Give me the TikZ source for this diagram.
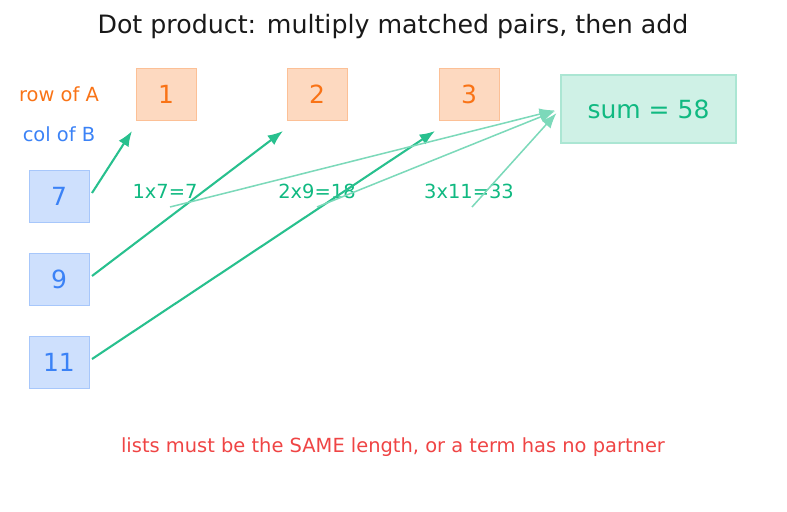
\documentclass[tikz,border=0pt]{standalone}
\usepackage{fontspec}
\setmainfont{DejaVu Sans}
\usetikzlibrary{arrows.meta,positioning,calc}
\definecolor{rowA}{HTML}{F97316}
\definecolor{colB}{HTML}{3B82F6}
\definecolor{prod}{HTML}{10B981}
\definecolor{warn}{HTML}{EF4444}

\begin{document}
\begin{tikzpicture}[
  x=0.72pt,y=-0.72pt,
  >={Latex[length=11pt,width=8.5pt]},
  abox/.style={
    draw=rowA!45!white,fill=rowA!27!white,text=rowA,
    minimum width=43.2pt,minimum height=37.4pt,inner sep=0pt,
    font=\fontsize{18}{21}\selectfont
  },
  bbox/.style={
    draw=colB!45!white,fill=colB!25!white,text=colB,
    minimum width=43.2pt,minimum height=37.4pt,inner sep=0pt,
    font=\fontsize{18}{21}\selectfont
  },
  sumbox/.style={
    draw=prod!35!white,line width=1.2pt,fill=prod!20!white,text=prod,
    minimum width=126pt,minimum height=49pt,inner sep=0pt,
    font=\fontsize{18}{21}\selectfont
  },
  lbl/.style={font=\fontsize{14}{16}\selectfont,inner sep=0pt},
  pairarrow/.style={->,draw=prod!90!white,line width=1.5pt},
  sumarrow/.style={->,draw=prod!55!white,line width=1.1pt}
]
\useasboundingbox (0,0) rectangle (787,512);

% ---- title ----
\node[font=\fontsize{18.2}{21}\selectfont,text=black!90,inner sep=0pt] (title) at (393,27)
  {Dot product: multiply matched pairs, then add};

% ---- row of A ----
\node[lbl,text=rowA] (rowlbl) at (59,94) {row of A};
\node[abox] (a1) at (166,94) {1};
\node[abox] (a2) at (317,94) {2};
\node[abox] (a3) at (469,94) {3};

% ---- column of B ----
\node[lbl,text=colB] (collbl) at (59,134) {col of B};
\node[bbox] (b1) at (59,196) {7};
\node[bbox] (b2) at (59,279) {9};
\node[bbox] (b3) at (59,362) {11};

% ---- result ----
\node[sumbox] (sum) at (648.5,109) {sum = 58};

% ---- products ----
\node[lbl,text=prod] (p1) at (165,191) {1x7=7};
\node[lbl,text=prod] (p2) at (317,191) {2x9=18};
\node[lbl,text=prod] (p3) at (469,191) {3x11=33};

% ---- matched pairs ----
\foreach \i in {1,2,3} {
  \coordinate (s\i) at ($(b\i.center)+(33,-3)$);
  \coordinate (t\i) at ($(a\i.center)+(-34,37)$);
  \draw[pairarrow] (s\i) -- (t\i);
}

% ---- add up ----
\foreach \i/\dx in {1/5,2/0,3/3} {
  \coordinate (q\i) at ($(p\i.center)+(\dx,16)$);
  \draw[sumarrow,shorten >=4pt] (q\i) -- (sum.west);
}

\node[lbl,text=warn] (note) at (393,447)
  {lists must be the SAME length, or a term has no partner};

\end{tikzpicture}
\end{document}
